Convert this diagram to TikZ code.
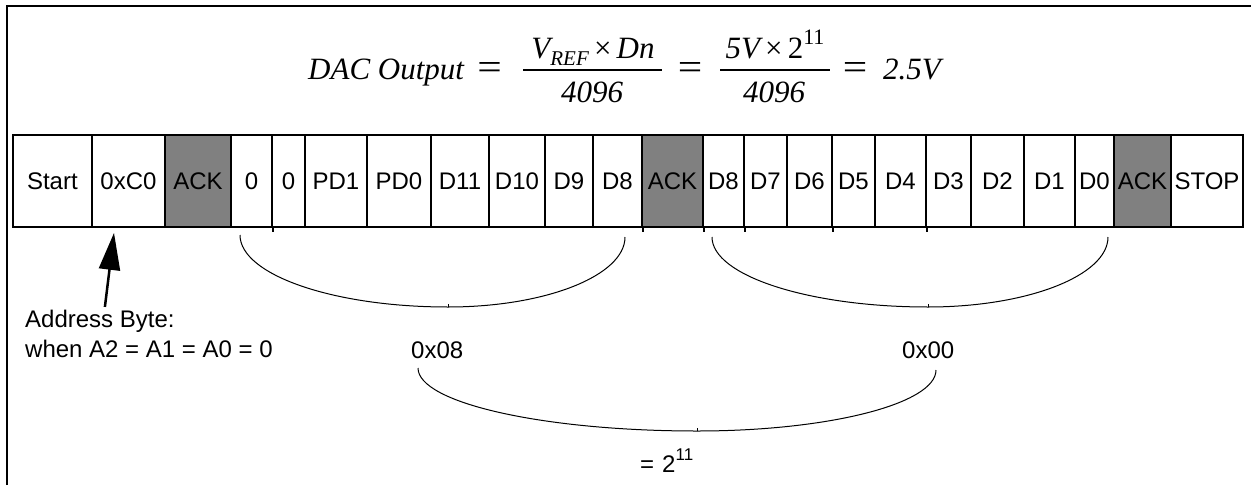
\documentclass[tikz,border=0pt]{standalone}
\usepackage{fontspec}
\usepackage{graphicx}
\setmainfont{Liberation Sans}
\newfontfamily\tms{Liberation Serif}
\usetikzlibrary{arrows.meta}
\definecolor{ackgray}{HTML}{808080}
\newcommand\lblfont{\fontsize{24}{28}\selectfont}
\newcommand\fmfont{\tms\fontsize{31}{36}\selectfont}
\newcommand\bigeq{\scalebox{1.4}[1.2]{=}}
\begin{document}
\begin{tikzpicture}[x=1pt,y=-1pt,
  cellbox/.style={draw=black, line width=1.8pt, minimum height=92pt, inner sep=0pt,
                  text height=17pt, text depth=0pt, font=\lblfont},
  lbl/.style={font=\lblfont, inner sep=0pt},
  fm/.style={font=\fmfont, inner sep=0pt},
  bracecurve/.style={draw=black, line width=1pt},
  framebox/.style={draw=black, line width=2pt},
  fracbar/.style={draw=black, line width=1.2pt}]
\useasboundingbox (0,0) rectangle (1251,485);
\draw[framebox] (7,485) -- (7,6) -- (1251,6);

% formula
\node[fm, anchor=base west] (dac) at (308,79) {\itshape DAC Output};
\node[fm, anchor=base] (eq1) at (489.5,79) {\bigeq};
\node[fm, anchor=base] (n1) at (593,58) {\itshape V\raisebox{-7pt}{\fontsize{21}{21}\selectfont REF}\,\upshape{\texttimes}\,\itshape Dn};
\draw[fracbar] (523,70) -- (662,70);
\node[fm, anchor=base] (d1) at (592,102) {\itshape 4096};
\node[fm, anchor=base] (eq2) at (690,79) {\bigeq};
\node[fm, anchor=base] (n2) at (775,58) {\itshape 5V\,\upshape\texttimes\,2\raisebox{13.5pt}{\fontsize{22}{22}\selectfont 11}};
\draw[fracbar] (720,70) -- (830,70);
\node[fm, anchor=base] (d2) at (774,102) {\itshape 4096};
\node[fm, anchor=base] (eq3) at (855,79) {\bigeq};
\node[fm, anchor=base west] (res) at (883,79) {\itshape 2.5V};

% cells
\foreach \a/\b/\t/\f [count=\i] in {
  12.7/92/Start/white, 92/165/0xC0/white, 165/231/ACK/ackgray, 231/272/0/white,
  272/305/0/white, 305/367/PD1/white, 367/431/PD0/white, 431/489/D11/white,
  489/545/D10/white, 545/593/D9/white, 593/642/D8/white, 642/703/ACK/ackgray,
  703/744/D8/white, 744/787/D7/white, 787/832/D6/white, 832/875/D5/white,
  875/926/D4/white, 926/971/D3/white, 971/1024/D2/white, 1024/1075/D1/white,
  1075/1114/D0/white, 1114/1171/ACK/ackgray, 1171/1243/STOP/white}{
  \pgfmathsetmacro\cw{\b-\a}
  \pgfmathsetmacro\cx{(\a+\b)/2}
  \node[cellbox, fill=\f, minimum width=\cw pt] (c\i) at (\cx,181) {\t};
}
\foreach \k in {4,11,12,13,15,17}
  \draw[line width=1.8pt] (c\k.south east) -- ++(0,4);

% address label and arrow
\node[lbl, anchor=base west] (addr1) at (25,327) {Address Byte:};
\node[lbl, anchor=base west] (addr2) at (25,357) {when A2 = A1 = A0 = 0};
\draw[line width=2.5pt, -{Triangle[length=37pt,width=21pt]}]
  ([xshift=5pt,yshift=2.5pt]addr1.north) -- ([xshift=-14.5pt,yshift=-5pt]c2.south);

% braces
\coordinate (b1l) at (240,235); \coordinate (b1m) at (448,307); \coordinate (b1r) at (625,237);
\draw[bracecurve] (b1l) .. controls (240,274.7) and (333.2,307) .. (b1m);
\draw[bracecurve] (b1m) .. controls (545.7,307) and (625,275.6) .. (b1r);
\draw[bracecurve] (b1m) -- ++(0,-3);

\coordinate (b2l) at (712,237); \coordinate (b2m) at (928,307); \coordinate (b2r) at (1108,237);
\draw[bracecurve] (b2l) .. controls (712,275.6) and (808.8,307) .. (b2m);
\draw[bracecurve] (b2m) .. controls (1027.4,307) and (1108,275.6) .. (b2r);
\draw[bracecurve] (b2m) -- ++(0,-3);

\coordinate (b3l) at (418,368); \coordinate (b3m) at (697,431); \coordinate (b3r) at (936,370);
\draw[bracecurve] (b3l) .. controls (418,402.8) and (543,431) .. (b3m);
\draw[bracecurve] (b3m) .. controls (828.9,431) and (936,403.7) .. (b3r);
\draw[bracecurve] (b3m) -- ++(0,-3);

\node[lbl, anchor=base west] (h08) at (411,358) {0x08};
\node[lbl, anchor=base west] (h00) at (902,358) {0x00};
\node[lbl, anchor=base west] (pw) at (640,472) {=\hspace{8pt}2\raisebox{12pt}{\fontsize{17}{17}\selectfont 11}};
\end{tikzpicture}
\end{document}
